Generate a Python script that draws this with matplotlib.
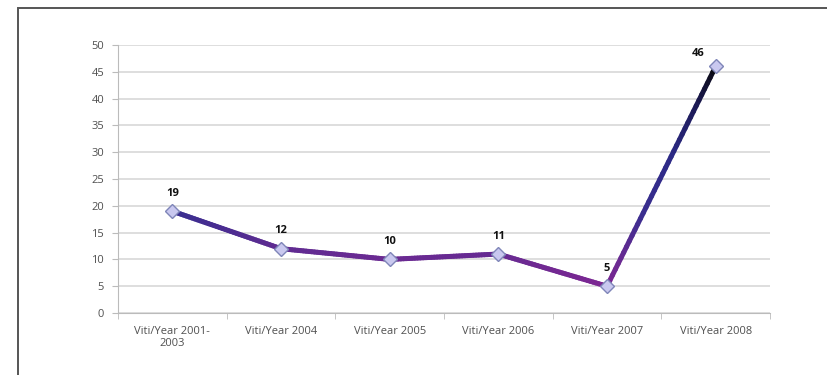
import numpy as np
import matplotlib
matplotlib.use('Agg')
import matplotlib.pyplot as plt
from matplotlib.collections import LineCollection
from matplotlib.colors import LinearSegmentedColormap
from matplotlib.patches import Rectangle

plt.rcParams['font.family'] = ['Open Sans', 'DejaVu Sans']

categories = ['Viti/Year 2001-\n2003', 'Viti/Year 2004', 'Viti/Year 2005',
              'Viti/Year 2006', 'Viti/Year 2007', 'Viti/Year 2008']
values = [19, 12, 10, 11, 5, 46]
yticks = [0, 5, 10, 15, 20, 25, 30, 35, 40, 45, 50]

fig = plt.figure(figsize=(8.27, 3.75), dpi=100)
fig.patch.set_facecolor('white')

# outer frame around the chart
fig.add_artist(Rectangle((18 / 827, -0.1), 1.0, 1 - 8 / 375 + 0.1,
                         transform=fig.transFigure, fill=False,
                         edgecolor='#555555', linewidth=1.4))

ax = fig.add_axes([0.1427, 0.1653, 0.7884, 0.7147])
x = np.arange(len(values))

# line coloured by height: magenta at the bottom, blue in the middle, black on top
cmap = LinearSegmentedColormap.from_list(
    'viti', [(0.0, '#8e2391'), (0.22, '#6a2a92'), (0.4, '#3b2e90'),
             (0.65, '#2c2a86'), (0.85, '#1c1a55'), (1.0, '#0a0a12')])
segs, cols = [], []
for i in range(len(values) - 1):
    xs = np.linspace(x[i], x[i + 1], 40)
    ys = np.linspace(values[i], values[i + 1], 40)
    for j in range(len(xs) - 1):
        segs.append([(xs[j], ys[j]), (xs[j + 1], ys[j + 1])])
        cols.append(cmap((ys[j] + ys[j + 1]) / 2 / 46))
lc = LineCollection(segs, colors=cols, linewidths=3.6, capstyle='round',
                    joinstyle='round', zorder=3)
ax.add_collection(lc)
ax.plot(x, values, linestyle='none', marker='D', markersize=7.5,
        markerfacecolor='#c9c8ef', markeredgecolor='#7f86b8',
        markeredgewidth=1.0, zorder=4)

for xi, v in zip(x, values):
    off = (-13, 5) if v == max(values) else (0, 9)
    ax.annotate(str(v), (xi, v), xytext=off, textcoords='offset points',
                ha='center', va='bottom', fontsize=8, fontweight='bold',
                color='#111111')

ax.set_xlim(-0.5, len(values) - 0.5)
ax.set_ylim(0, 50)
ax.set_yticks(yticks)
ax.set_xticks(x)
ax.set_xticklabels(categories)
ax.set_xticks(np.arange(len(values) + 1) - 0.5, minor=True)
ax.tick_params(axis='x', which='major', length=0, pad=9, labelsize=8,
               labelcolor='#505050')
ax.tick_params(axis='x', which='minor', length=4, color='#bbbbbb')
ax.tick_params(axis='y', length=4, color='#bbbbbb', labelsize=8,
               labelcolor='#505050', pad=6)
ax.grid(axis='y', color='#d4d4d4', linewidth=1.1)
ax.set_axisbelow(True)
for s in ['top', 'right']:
    ax.spines[s].set_visible(False)
ax.spines['left'].set_color('#bbbbbb')
ax.spines['bottom'].set_color('#bbbbbb')

fig.savefig('out.png', dpi=100)
